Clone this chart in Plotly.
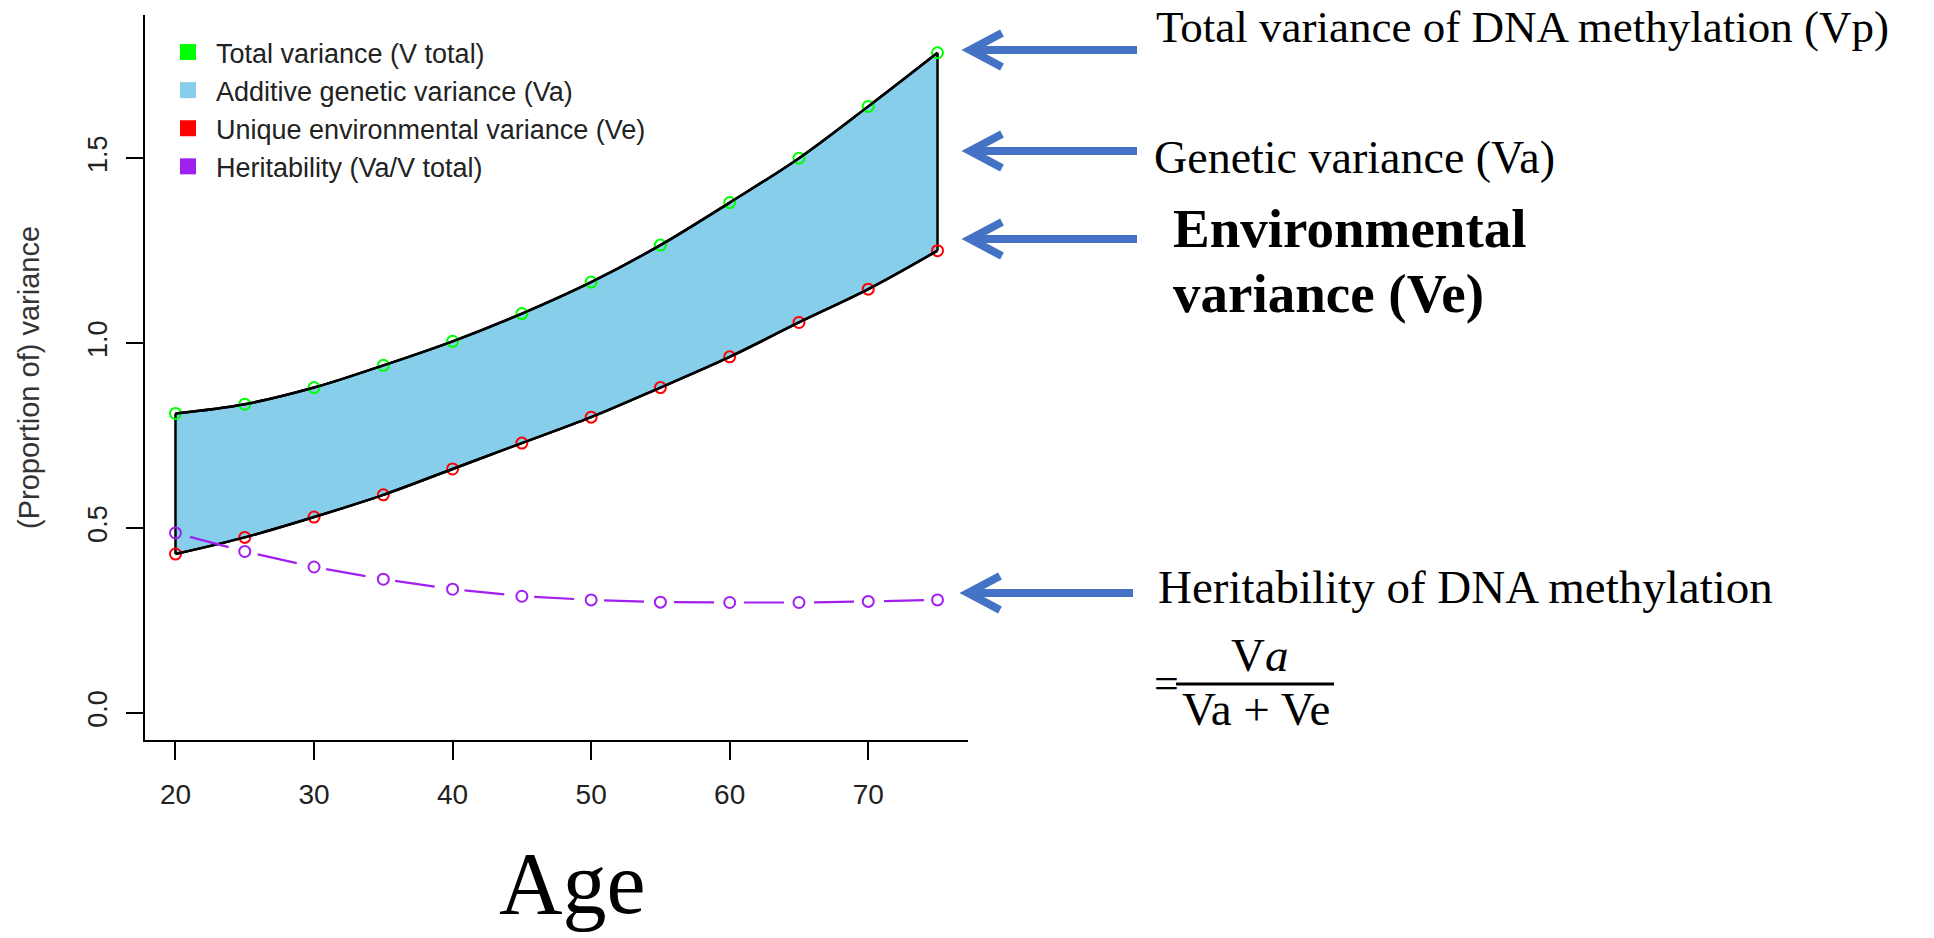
import plotly.graph_objects as go

# ---------------- data ----------------
ages = [20, 25, 30, 35, 40, 45, 50, 55, 60, 65, 70, 75]
v_total = [0.81, 0.835, 0.88, 0.94, 1.005, 1.08, 1.165, 1.265, 1.38, 1.50, 1.64, 1.785]
v_env = [0.43, 0.475, 0.53, 0.59, 0.66, 0.73, 0.80, 0.88, 0.963, 1.056, 1.146, 1.25]
herit = [0.487, 0.437, 0.395, 0.362, 0.335, 0.316, 0.306, 0.300, 0.299, 0.299, 0.302, 0.306]
x_ticks = [20, 30, 40, 50, 60, 70]
y_ticks = [0.0, 0.5, 1.0, 1.5]
y_tick_text = ["0.0", "0.5", "1.0", "1.5"]
legend_names = ["Total variance (V total)", "Additive genetic variance (Va)",
                "Unique environmental variance (Ve)", "Heritability (Va/V total)"]

GREEN = "#00FF00"
SKY = "#87CEEB"
RED = "#FF0000"
PURPLE = "#A020F0"
BLUE = "#4472C4"

# plot-area geometry in pixels
L, R, T, B = 145, 968, 15, 740
W, H = R - L, B - T


def px(x):
    return (x - L) / W


def py(y):
    return (B - y) / H


fig = go.Figure()

# filled band (Va) between Ve and V total
fig.add_trace(go.Scatter(x=ages, y=v_env, mode="lines", line=dict(color="black", width=2.5, shape="spline"),
                         showlegend=False, hoverinfo="skip"))
fig.add_trace(go.Scatter(x=ages, y=v_total, mode="lines", fill="tonexty", fillcolor=SKY,
                         line=dict(color="black", width=2.5, shape="spline"),
                         showlegend=False, hoverinfo="skip"))
# vertical closing edges of the polygon
fig.add_trace(go.Scatter(x=[ages[0], ages[0], None, ages[-1], ages[-1]],
                         y=[v_env[0], v_total[0], None, v_env[-1], v_total[-1]],
                         mode="lines", line=dict(color="black", width=2.5),
                         showlegend=False, hoverinfo="skip"))

# point markers
fig.add_trace(go.Scatter(x=ages, y=v_total, mode="markers",
                         marker=dict(symbol="circle-open", size=11, color=GREEN, line=dict(width=2, color=GREEN)),
                         showlegend=False))
fig.add_trace(go.Scatter(x=ages, y=v_env, mode="markers",
                         marker=dict(symbol="circle-open", size=11, color=RED, line=dict(width=2, color=RED)),
                         showlegend=False))
# redraw outline on top of markers
fig.add_trace(go.Scatter(x=ages, y=v_total, mode="lines", line=dict(color="black", width=2.5, shape="spline"),
                         showlegend=False, hoverinfo="skip"))
fig.add_trace(go.Scatter(x=ages, y=v_env, mode="lines", line=dict(color="black", width=2.5, shape="spline"),
                         showlegend=False, hoverinfo="skip"))

# heritability (R type="b": segments broken around points)
fig.add_trace(go.Scatter(x=ages, y=herit, mode="lines",
                         line=dict(color=PURPLE, width=2.2, dash="0px,15px,40px,15px"),
                         showlegend=False, hoverinfo="skip"))
fig.add_trace(go.Scatter(x=ages, y=herit, mode="markers",
                         marker=dict(symbol="circle-open", size=11, color=PURPLE, line=dict(width=2, color=PURPLE)),
                         showlegend=False))

# legend entries (square swatches)
for name, col in zip(legend_names, [GREEN, SKY, RED, PURPLE]):
    fig.add_trace(go.Scatter(x=[None], y=[None], mode="markers", name=name,
                             marker=dict(symbol="square", size=16, color=col)))

shapes = []
# arrows (open chevron heads)
for tip_x, tip_y, end_x in [(970, 50, 1137), (970, 151, 1137), (970, 239, 1137), (968, 593, 1133)]:
    shapes.append(dict(type="line", xref="paper", yref="paper",
                       x0=px(tip_x + 3), y0=py(tip_y), x1=px(end_x), y1=py(tip_y),
                       line=dict(color=BLUE, width=8)))
    shapes.append(dict(type="path", xref="paper", yref="paper",
                       path=f"M {px(tip_x + 32)} {py(tip_y - 17)} L {px(tip_x)} {py(tip_y)} L {px(tip_x + 32)} {py(tip_y + 17)}",
                       line=dict(color=BLUE, width=8)))
# fraction bar
shapes.append(dict(type="line", xref="paper", yref="paper",
                   x0=px(1176), y0=py(684), x1=px(1334), y1=py(684),
                   line=dict(color="black", width=3)))

SERIF = "Liberation Serif, Times New Roman, serif"
annotations = [
    dict(text="Total variance of DNA methylation (Vp)", x=px(1154), y=py(27), font=dict(size=45),
         xanchor="left"),
    dict(text="Genetic variance (Va)", x=px(1152), y=py(158), font=dict(size=46), xanchor="left"),
    dict(text="<b>Environmental</b>", x=px(1171), y=py(228), font=dict(size=55), xanchor="left"),
    dict(text="<b>variance (Ve)</b>", x=px(1171), y=py(293), font=dict(size=55), xanchor="left"),
    dict(text="Heritability of DNA methylation", x=px(1156), y=py(587), font=dict(size=47),
         xanchor="left"),
    dict(text="=", x=px(1166), y=py(683), font=dict(size=44), xanchor="center"),
    dict(text="V<i>a</i>", x=px(1259), y=py(655), font=dict(size=47), xanchor="center"),
    dict(text="Va + Ve", x=px(1256), y=py(709), font=dict(size=47), xanchor="center"),
    dict(text="Age", x=px(572), y=py(884), font=dict(size=88), xanchor="center"),
]
for a in annotations:
    a.update(xref="paper", yref="paper", showarrow=False, yanchor="middle")
    a["font"].update(family=SERIF, color="black")

fig.update_layout(
    width=1934, height=938,
    margin=dict(l=L, r=1934 - R, t=T, b=938 - B, autoexpand=False),
    paper_bgcolor="white", plot_bgcolor="white",
    font=dict(family="Liberation Sans, Arial, sans-serif", color="#222"),
    showlegend=True,
    legend=dict(x=px(160), y=py(28), xanchor="left", yanchor="top",
                font=dict(size=27, color="#222"), bgcolor="rgba(0,0,0,0)",
                tracegroupgap=0, itemwidth=46, traceorder="normal"),
    shapes=shapes,
    annotations=annotations,
    xaxis=dict(range=[17.8, 77.2], tickvals=x_ticks, showline=True, linecolor="black", linewidth=2,
               ticks="outside", ticklen=18, tickwidth=2, tickcolor="black", showgrid=False, zeroline=False,
               tickfont=dict(size=28), ticklabelstandoff=10),
    yaxis=dict(range=[-0.0726, 1.887], tickvals=y_ticks, ticktext=y_tick_text, tickangle=-90,
               showline=True, linecolor="black", linewidth=2, ticks="outside", ticklen=17, tickwidth=2,
               tickcolor="black", showgrid=False, zeroline=False, tickfont=dict(size=27),
               ticklabelstandoff=8,
               title=dict(text="(Proportion of) variance", font=dict(size=29, color="#333"), standoff=35)),
)

fig.write_html("out.html")
